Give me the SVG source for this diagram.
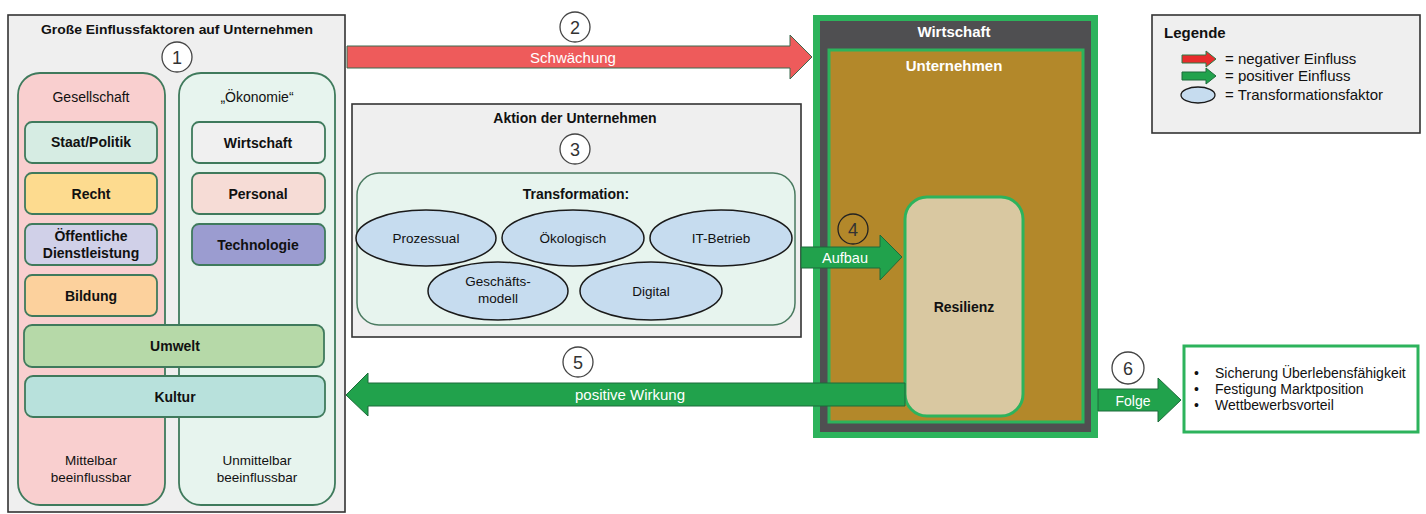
<svg xmlns="http://www.w3.org/2000/svg" width="1426" height="514" viewBox="0 0 1426 514">
<style>
text{font-family:"Liberation Sans",Arial,sans-serif;fill:#111;}
.b{font-weight:bold;}
.c{text-anchor:middle;}
.w{fill:#fff;}
.box{stroke:#3f7a5c;stroke-width:1.8;}
.num{fill:#fff;stroke:#444;stroke-width:1.3;}
.numt{font-size:18px;fill:#333;text-anchor:middle;}
.ell{fill:#c6dcef;stroke:#1a1a1a;stroke-width:1.5;}
.gray{fill:#efefef;stroke:#333;stroke-width:1.6;}
.red{fill:#ee5b5b;stroke:#3b6a4e;stroke-width:1;}
.grn{fill:#21a24c;stroke:#1d6b3a;stroke-width:1;}
</style>
<g id="einflussfaktoren">
<rect class="gray" x="8" y="15" width="337" height="497"/>
<text class="b c" x="177" y="34" font-size="13" textLength="272" lengthAdjust="spacingAndGlyphs">Große Einflussfaktoren auf Unternehmen</text>
<circle class="num" cx="177" cy="57" r="15"/><text class="numt" x="177" y="64">1</text>
</g>
<g id="gesellschaft">
<rect class="box" x="18" y="73" width="147" height="432" rx="22" fill="#f9cfcf"/>
<text class="c" x="91" y="102" font-size="14">Gesellschaft</text>
<text class="c" x="91" y="465" font-size="13.5">Mittelbar</text>
<text class="c" x="91" y="482" font-size="13.5">beeinflussbar</text>
</g>
<g id="oekonomie">
<rect class="box" x="179" y="73" width="156" height="432" rx="22" fill="#e7f4ee"/>
<text class="c" x="257" y="102" font-size="14">„Ökonomie“</text>
<text class="c" x="257" y="465" font-size="13.5">Unmittelbar</text>
<text class="c" x="257" y="482" font-size="13.5">beeinflussbar</text>
</g>
<g id="staat"><rect class="box" x="25" y="122" width="132" height="41" rx="7" fill="#d6ece3"/><text class="b c" x="91" y="147" font-size="14">Staat/Politik</text></g>
<g id="recht"><rect class="box" x="25" y="173" width="132" height="41" rx="7" fill="#fddb8f"/><text class="b c" x="91" y="199" font-size="14">Recht</text></g>
<g id="oeffentlich"><rect class="box" x="25" y="224" width="132" height="41" rx="7" fill="#d0d0e8"/><text class="b c" x="91" y="241" font-size="14">Öffentliche</text><text class="b c" x="91" y="258" font-size="14">Dienstleistung</text></g>
<g id="bildung"><rect class="box" x="25" y="275" width="132" height="41" rx="7" fill="#fcd19d"/><text class="b c" x="91" y="301" font-size="14">Bildung</text></g>
<g id="wirtschaft-f"><rect class="box" x="192" y="122" width="133" height="41" rx="7" fill="#f0f0f0"/><text class="b c" x="258" y="148" font-size="14">Wirtschaft</text></g>
<g id="personal"><rect class="box" x="192" y="173" width="133" height="41" rx="7" fill="#f6dcd6"/><text class="b c" x="258" y="199" font-size="14">Personal</text></g>
<g id="technologie"><rect class="box" x="192" y="224" width="133" height="41" rx="7" fill="#9b9cd0"/><text class="b c" x="258" y="250" font-size="14">Technologie</text></g>
<g id="umwelt"><rect class="box" x="24" y="325" width="300" height="42" rx="8" fill="#b6d9a8"/><text class="b c" x="175" y="351" font-size="14">Umwelt</text></g>
<g id="kultur"><rect class="box" x="25" y="376" width="300" height="41" rx="8" fill="#b8e1dc"/><text class="b c" x="175" y="402" font-size="14">Kultur</text></g>

<g id="aktion">
<rect class="gray" x="352" y="104" width="449" height="233"/>
<text class="b c" x="575" y="123" font-size="14">Aktion der Unternehmen</text>
<circle class="num" cx="575" cy="149" r="15"/><text class="numt" x="575" y="156">3</text>
</g>
<g id="transformation">
<rect x="357" y="173" width="438" height="152" rx="22" fill="#e7f4ee" stroke="#4a7a60" stroke-width="1.5"/>
<text class="b c" x="576" y="199" font-size="14">Transformation:</text>
</g>
<g id="prozessual"><ellipse class="ell" cx="426" cy="238" rx="70" ry="28"/><text class="c" x="426" y="243" font-size="13.5">Prozessual</text></g>
<g id="oekologisch"><ellipse class="ell" cx="573" cy="238" rx="71" ry="28"/><text class="c" x="573" y="243" font-size="13.5">Ökologisch</text></g>
<g id="itbetrieb"><ellipse class="ell" cx="721" cy="238" rx="71" ry="28"/><text class="c" x="721" y="243" font-size="13.5">IT-Betrieb</text></g>
<g id="geschaeftsmodell"><ellipse class="ell" cx="498" cy="291" rx="70" ry="29"/><text class="c" x="498" y="286" font-size="13.5">Geschäfts-</text><text class="c" x="498" y="303" font-size="13.5">modell</text></g>
<g id="digital"><ellipse class="ell" cx="651" cy="291" rx="71" ry="29"/><text class="c" x="651" y="296" font-size="13.5">Digital</text></g>

<g id="wirtschaft">
<rect x="813" y="15" width="285" height="423" fill="#2db35c"/>
<rect x="820" y="21" width="271" height="411" fill="#4f4f51"/>
<text class="b c w" x="954" y="37" font-size="15">Wirtschaft</text>
</g>
<g id="unternehmen">
<rect x="829" y="50" width="254" height="372" fill="#b3882a" stroke="#2db35c" stroke-width="3"/>
<text class="b c w" x="954" y="71" font-size="15">Unternehmen</text>
</g>
<g id="resilienz">
<rect x="905" y="197" width="118" height="219" rx="22" fill="#d9c8a1" stroke="#2db35c" stroke-width="3"/>
<text class="b c" x="964" y="312" font-size="14">Resilienz</text>
</g>

<g id="connectors">
<polygon class="red" points="347,46 790,46 790,35 812,57 790,79 790,68 347,68"/>
<text class="c w" x="573" y="63" font-size="15">Schwächung</text>
<circle class="num" cx="575" cy="27" r="15"/><text class="numt" x="575" y="34">2</text>

<polygon class="grn" points="801,247 880,247 880,235 902,257 880,280 880,268 801,268"/>
<text class="c w" x="845" y="263" font-size="14.5">Aufbau</text>
<circle cx="853" cy="229" r="15" fill="none" stroke="#222" stroke-width="1.3"/><text class="numt" x="853" y="236" fill="#222">4</text>

<polygon class="grn" points="905,383 368,383 368,373 346,395 368,416 368,406 905,406"/>
<text class="c w" x="630" y="400" font-size="15">positive Wirkung</text>
<circle class="num" cx="578" cy="362" r="15"/><text class="numt" x="578" y="369">5</text>

<polygon class="grn" points="1098,389 1158,389 1158,378 1181,400 1158,422 1158,411 1098,411"/>
<text class="c w" x="1133" y="406" font-size="14">Folge</text>
<circle class="num" cx="1128" cy="368" r="16"/><text class="numt" x="1128" y="375">6</text>
</g>

<g id="folgen">
<rect x="1184" y="346" width="234" height="86" fill="#fff" stroke="#2db35c" stroke-width="3"/>
<text x="1194" y="378" font-size="14">•</text><text x="1215" y="378" font-size="14">Sicherung Überlebensfähigkeit</text>
<text x="1194" y="394" font-size="14">•</text><text x="1215" y="394" font-size="14">Festigung Marktposition</text>
<text x="1194" y="410" font-size="14">•</text><text x="1215" y="410" font-size="14">Wettbewerbsvorteil</text>
</g>

<g id="legende">
<rect class="gray" x="1152" y="15" width="268" height="118"/>
<text class="b" x="1164" y="38" font-size="15">Legende</text>
<polygon points="1182,55 1206,55 1206,51 1216,59 1206,67 1206,63 1182,63" fill="#e82c2c" stroke="#2a7a45" stroke-width="1"/>
<polygon points="1182,72 1206,72 1206,68 1216,76 1206,84 1206,80 1182,80" fill="#21a24c" stroke="#1d6b3a" stroke-width="1"/>
<ellipse cx="1198" cy="95" rx="17" ry="8" fill="#c6dcef" stroke="#1a1a1a" stroke-width="1.3"/>
<text x="1225" y="64" font-size="15">= negativer Einfluss</text>
<text x="1225" y="81" font-size="15">= positiver Einfluss</text>
<text x="1225" y="100" font-size="15">= Transformationsfaktor</text>
</g>
</svg>
